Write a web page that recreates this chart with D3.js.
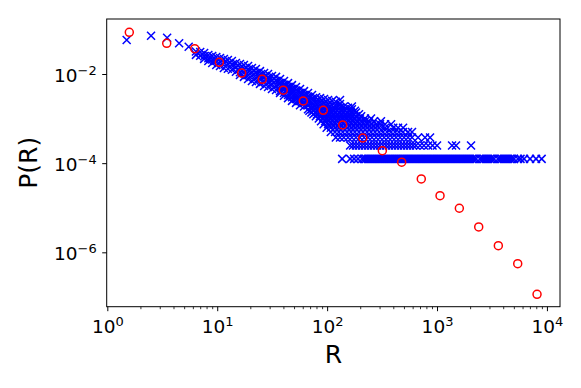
<!DOCTYPE html>
<html>
<head>
<meta charset="utf-8">
<script src="https://cdn.jsdelivr.net/npm/d3@7"></script>
<style>
  body { margin: 0; background: #fff; }
  svg { display: block; }
  svg text { font-family: "DejaVu Sans", sans-serif; }
</style>
</head>
<body>
<svg id="chart"></svg>
<script>
// raw counts: P(R) = count / totalCount
const totalCount = 8000;

// first few isolated points (top left)
const headR = [1.5, 2.5, 3.5, 4.5, 5.5];
const headCount = [462, 578, 521, 390, 327];

// the diagonal band, one column of counts per R value
const bandR = [6.4, 7.0, 7.6, 8.3, 9.0, 9.8, 10.6, 11.5, 12.5, 13.6, 14.8, 16.1, 17.5, 19.1, 20.7,
  22.5, 24.5, 26.7, 29.0, 31.5, 34.3, 37.3, 40.5, 44.1, 47.9, 52.1, 56.7, 61.6, 67.0, 72.9,
  79.3, 86.2, 93.7, 102, 111, 120, 131, 142, 155, 168];
const bandCounts = [
  [255, 215], [249, 205], [237, 200, 175], [213, 180, 156], [203, 170, 141],
  [192, 160, 127], [183, 150, 121], [174, 145, 109], [165, 134, 105], [156, 127, 100],
  [141, 115, 90], [134, 109, 88, 76], [127, 104, 84, 69], [121, 98, 76, 62], [109, 89, 72, 56],
  [104, 84, 66, 53], [93, 76, 62, 48], [84, 69, 55, 43], [80, 65, 52, 41], [72, 59, 47, 37],
  [69, 56, 44, 35], [62, 50, 41, 33, 30], [56, 46, 37, 30, 26], [50, 41, 33, 27, 23], [45, 37, 30, 24, 20],
  [41, 34, 27, 22, 18], [37, 30, 25, 20, 16], [33, 27, 22, 18, 15], [30, 25, 20, 16, 13], [27, 22, 18, 15, 13],
  [24, 20, 17, 14], [23, 19, 16, 13], [22, 18, 15, 13], [21, 17, 14], [20, 16, 13],
  [19, 15, 13], [21, 17, 14], [15, 13], [14], [15, 13]
];

// low counts: R values seen on each count level
const levelCounts = [1, 2, 3, 4, 5, 6, 7, 8, 9, 10, 11, 12];
const levelR = [
  [137, 162, 176, 191, 208, 217, 226, 236, 246, 256, 267, 279, 291, 303, 316, 330, 344, 359, 374, 390,
   407, 424, 442, 461, 481, 501, 523, 545, 568, 592, 618, 644, 672, 700, 730, 762, 794, 828, 864, 901,
   939, 980, 1021, 1065, 1111, 1158, 1208, 1259, 1313, 1370, 1428, 1489, 1553, 1620, 1689, 1761, 1837,
   1915, 1997, 2083, 2172, 2265, 2462, 2568, 2678, 2792, 2912, 3035, 3166, 3301, 3590, 3744, 3904,
   4071, 4245, 4427, 4615, 4813, 5019, 5458, 5750, 6190, 7020, 7960, 8950],
  [162, 172, 183, 195, 208, 221, 236, 251, 267, 285, 303, 323, 344, 366, 390, 415, 442, 471, 501, 534,
   568, 605, 644, 700, 760, 830, 910, 1000, 1370, 1489, 2040],
  [120, 131, 142, 155, 168, 183, 199, 217, 236, 256, 279, 303, 330, 359, 390, 424, 461, 501, 545, 592, 672, 778, 864],
  [108, 118, 128, 139, 152, 165, 179, 195, 212, 231, 251, 273, 297, 323, 351, 382, 415, 451, 491, 545, 592],
  [99, 108, 118, 128, 139, 152, 165, 179, 195, 212, 231, 251, 273, 297, 337, 400, 442, 491],
  [93, 102, 111, 120, 131, 142, 155, 168, 183, 199, 217, 236, 256, 279, 303, 337, 382],
  [88, 96, 104, 113, 123, 134, 145, 158, 172, 187, 204, 221, 241, 267, 309],
  [84, 92, 99, 108, 118, 128, 139, 152, 165, 179, 199, 221, 251],
  [79, 86, 94, 102, 111, 120, 131, 142, 155, 168, 183, 204],
  [75, 81, 88, 96, 104, 113, 123, 134, 145, 158, 176, 195],
  [72, 78, 84, 92, 99, 108, 118, 128, 139, 152, 165, 183],
  [69, 75, 81, 88, 96, 104, 113, 123, 134, 145, 162, 179]
];

// log-binned distribution (red circles)
const binR = [1.585, 3.47, 6.24, 10.45, 16.7, 25.7, 39.9, 60.7, 92.3, 138.6,
  211, 318, 477, 719, 1065, 1596, 2395, 3613, 5422, 8128];
const binP = [0.0861, 0.0488, 0.0369, 0.0183, 0.0105, 0.0076, 0.00434, 0.00248, 0.00153, 0.00072,
  0.000367, 0.000191, 0.000105, 4.43e-5, 1.87e-5, 9.75e-6, 3.71e-6, 1.41e-6, 5.55e-7, 1.14e-7];

const xMajor = [1, 10, 100, 1000, 10000];
const yMajor = [1e-6, 1e-4, 1e-2];

// flatten the blue points
const blue = [];
headR.forEach((r, i) => blue.push([r, headCount[i] / totalCount]));
bandR.forEach((r, i) => bandCounts[i].forEach(c => blue.push([r, c / totalCount])));
levelCounts.forEach((c, i) => levelR[i].forEach(r => blue.push([r, c / totalCount])));

const width = 581, height = 388;
const margin = {top: 19, right: 21, bottom: 81.3, left: 106.7};
const font = '"DejaVu Sans", sans-serif';

const svg = d3.select("#chart")
  .attr("width", width)
  .attr("height", height);

const x = d3.scaleLog()
  .domain([0.987, 13150])
  .range([margin.left, width - margin.right]);
const y = d3.scaleLog()
  .domain([6.03e-8, 0.1714])
  .range([height - margin.bottom, margin.top]);

// blue crosses
svg.append("g")
  .selectAll("path")
  .data(blue)
  .enter()
  .append("path")
  .attr("transform", d => `translate(${x(d[0])},${y(d[1])})`)
  .attr("d", "M-4,-4L4,4M-4,4L4,-4")
  .attr("stroke", "#0000ff")
  .attr("stroke-width", 1.5)
  .attr("fill", "none");

// red open circles
svg.append("g")
  .selectAll("circle")
  .data(binR)
  .enter()
  .append("circle")
  .attr("cx", d => x(d))
  .attr("cy", (d, i) => y(binP[i]))
  .attr("r", 4)
  .attr("fill", "none")
  .attr("stroke", "#ff0000")
  .attr("stroke-width", 1.5);

// minor x ticks
const xMinor = [];
[1, 10, 100, 1000, 10000].forEach(dec => {
  for (let k = 2; k <= 9; k++) if (dec * k <= x.domain()[1]) xMinor.push(dec * k);
});

const bottomY = height - margin.bottom;

svg.append("g")
  .attr("transform", `translate(0,${bottomY})`)
  .call(d3.axisBottom(x).tickValues(xMinor).tickSize(2.5).tickFormat(""))
  .call(g => g.select(".domain").remove())
  .call(g => g.selectAll("line").attr("stroke", "#000").attr("stroke-width", 0.8));

const xAxis = svg.append("g")
  .attr("transform", `translate(0,${bottomY})`)
  .call(d3.axisBottom(x).tickValues(xMajor).tickSize(4.5).tickFormat(""))
  .attr("font-family", font)
  .call(g => g.select(".domain").remove())
  .call(g => g.selectAll("line").attr("stroke", "#000").attr("stroke-width", 1));

xAxis.selectAll(".tick").each(function(d) {
  const t = d3.select(this).append("text")
    .attr("y", 26.8)
    .attr("fill", "#000")
    .attr("text-anchor", "middle")
    .style("font-family", font)
    .style("font-size", "18.5px");
  t.append("tspan").text("10");
  t.append("tspan").attr("dy", -7.2).style("font-size", "13px").text(Math.round(Math.log10(d)));
});

const yAxis = svg.append("g")
  .attr("transform", `translate(${margin.left},0)`)
  .call(d3.axisLeft(y).tickValues(yMajor).tickSize(4.5).tickFormat(""))
  .attr("font-family", font)
  .call(g => g.select(".domain").remove())
  .call(g => g.selectAll("line").attr("stroke", "#000").attr("stroke-width", 1));

yAxis.selectAll(".tick").each(function(d) {
  const t = d3.select(this).append("text")
    .attr("x", -10)
    .attr("y", 7.6)
    .attr("fill", "#000")
    .attr("text-anchor", "end")
    .style("font-family", font)
    .style("font-size", "18.5px");
  t.append("tspan").text("10");
  t.append("tspan").attr("dy", -7.2).style("font-size", "13px")
    .text("\u2212" + Math.abs(Math.round(Math.log10(d))));
});

// frame
svg.append("rect")
  .attr("x", margin.left)
  .attr("y", margin.top)
  .attr("width", width - margin.left - margin.right)
  .attr("height", height - margin.top - margin.bottom)
  .attr("fill", "none")
  .attr("stroke", "#000")
  .attr("stroke-width", 1);

// axis titles
svg.append("text")
  .attr("x", (margin.left + width - margin.right) / 2)
  .attr("y", 363.3)
  .attr("text-anchor", "middle")
  .style("font-family", font)
  .style("font-size", "25px")
  .text("R");

svg.append("text")
  .attr("transform", `translate(37,${(margin.top + bottomY) / 2}) rotate(-90)`)
  .attr("text-anchor", "middle")
  .style("font-family", font)
  .style("font-size", "25px")
  .text("P(R)");
</script>
</body>
</html>
